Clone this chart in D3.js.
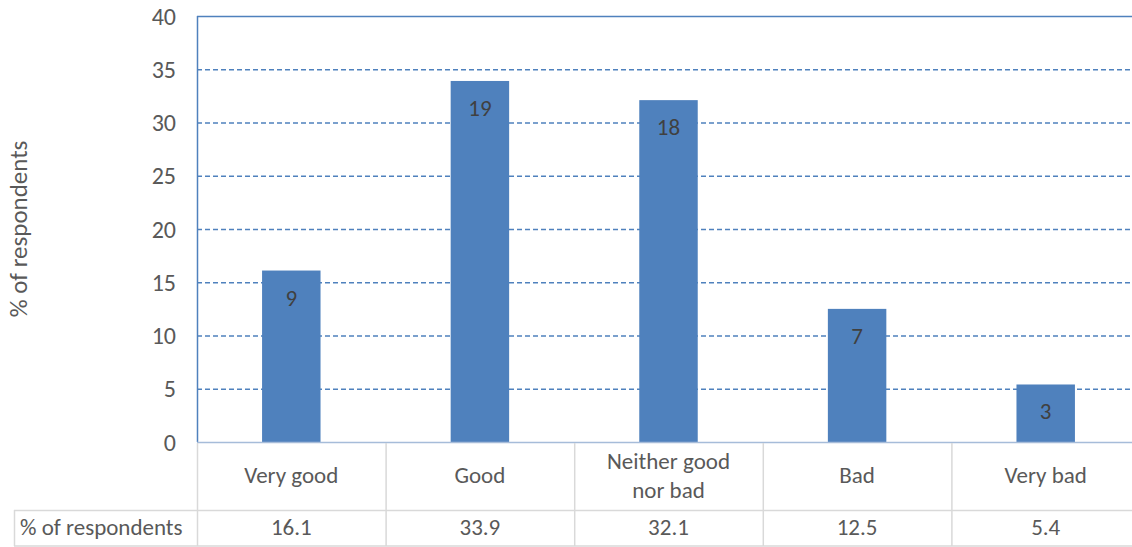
<!DOCTYPE html>
<html>
<head>
<meta charset="utf-8">
<script src="https://cdn.jsdelivr.net/npm/d3@7"></script>
<style>
  body { margin: 0; background: #fff; }
  text { font-family: Carlito, Lato, "Open Sans", sans-serif; }
</style>
</head>
<body>
<div id="chart"></div>
<script>
const categories = ['Very good', 'Good', 'Neither good nor bad', 'Bad', 'Very bad'];
const categoryLines = [['Very good'], ['Good'], ['Neither good', 'nor bad'], ['Bad'], ['Very bad']];
const percentValues = [16.1, 33.9, 32.1, 12.5, 5.4];
const countLabels = [9, 19, 18, 7, 3];
const yTicks = [0, 5, 10, 15, 20, 25, 30, 35, 40];
const seriesName = '% of respondents';

const width = 1132;
const height = 547;
const plotLeft = 197;
const plotRight = 1140;
const plotTop = 16;
const plotBottom = 442;
const barColor = '#4f81bd';
const textColor = '#595959';

const svg = d3.select('#chart')
  .append('svg')
  .attr('width', width)
  .attr('height', height);

const x = d3.scaleBand()
  .domain(categories)
  .range([plotLeft, plotRight])
  .paddingInner(0.69)
  .paddingOuter(0.345);

const y = d3.scaleLinear()
  .domain([0, 40])
  .range([plotBottom, plotTop]);

// dashed gridlines
svg.selectAll('.grid')
  .data(yTicks.filter(d => d > 0))
  .enter()
  .append('line')
  .attr('x1', plotLeft)
  .attr('x2', plotRight)
  .attr('y1', d => y(d) + 0.5)
  .attr('y2', d => y(d) + 0.5)
  .attr('stroke', barColor)
  .attr('stroke-width', 1.3)
  .attr('stroke-dasharray', d => d === 40 ? null : '5,3');

// bars
svg.selectAll('.bar')
  .data(percentValues)
  .enter()
  .append('rect')
  .attr('x', (d, i) => x(categories[i]))
  .attr('y', d => y(d))
  .attr('width', x.bandwidth())
  .attr('height', d => y(0) - y(d))
  .attr('fill', barColor);

// count labels inside bars
svg.selectAll('.bar-label')
  .data(percentValues)
  .enter()
  .append('text')
  .attr('x', (d, i) => x(categories[i]) + x.bandwidth() / 2)
  .attr('y', d => y(d) + 35)
  .attr('text-anchor', 'middle')
  .attr('font-size', 23)
  .attr('fill', '#404040')
  .text((d, i) => countLabels[i]);

// y axis line
svg.append('line')
  .attr('x1', plotLeft + 0.5).attr('x2', plotLeft + 0.5)
  .attr('y1', plotTop).attr('y2', plotBottom)
  .attr('stroke', barColor)
  .attr('stroke-width', 1.5);

// y tick labels
svg.selectAll('.ytick')
  .data(yTicks)
  .enter()
  .append('text')
  .attr('x', 176)
  .attr('y', d => y(d) + 8.5)
  .attr('text-anchor', 'end')
  .attr('font-size', 24)
  .attr('fill', textColor)
  .text(d => d);

// y axis title
svg.append('text')
  .attr('transform', 'translate(27,' + ((plotTop + plotBottom) / 2) + ') rotate(-90)')
  .attr('text-anchor', 'middle')
  .attr('font-size', 25)
  .attr('fill', textColor)
  .text(seriesName);

// data table
const tableColor = '#d9d9d9';
const step = x.step();
const rowTop = plotBottom + 1;
const rowMid = 510;
const rowBottom = 546;

// horizontal table lines
svg.append('line')
  .attr('x1', plotLeft).attr('x2', plotRight)
  .attr('y1', plotBottom + 0.5).attr('y2', plotBottom + 0.5)
  .attr('stroke', '#a6bcd9').attr('stroke-width', 1.5);
svg.append('line')
  .attr('x1', 14).attr('x2', plotRight)
  .attr('y1', rowMid + 0.5).attr('y2', rowMid + 0.5)
  .attr('stroke', tableColor).attr('stroke-width', 1.5);
svg.append('line')
  .attr('x1', 14).attr('x2', plotRight)
  .attr('y1', rowBottom).attr('y2', rowBottom)
  .attr('stroke', tableColor).attr('stroke-width', 1.5);
svg.append('line')
  .attr('x1', 14.5).attr('x2', 14.5)
  .attr('y1', rowMid).attr('y2', rowBottom)
  .attr('stroke', tableColor).attr('stroke-width', 1.5);

// vertical table lines
svg.selectAll('.vline')
  .data(d3.range(categories.length))
  .enter()
  .append('line')
  .attr('x1', i => plotLeft + i * step + 0.5)
  .attr('x2', i => plotLeft + i * step + 0.5)
  .attr('y1', rowTop)
  .attr('y2', rowBottom)
  .attr('stroke', tableColor)
  .attr('stroke-width', 1.5);

// category labels
svg.selectAll('.cat')
  .data(categoryLines)
  .enter()
  .append('text')
  .attr('text-anchor', 'middle')
  .attr('font-size', 23)
  .attr('fill', textColor)
  .attr('x', (d, i) => x(categories[i]) + x.bandwidth() / 2)
  .attr('y', d => d.length === 1 ? 483 : 469)
  .selectAll('tspan')
  .data(d => d)
  .enter()
  .append('tspan')
  .attr('x', function () { return d3.select(this.parentNode).attr('x'); })
  .attr('dy', (d, i) => i === 0 ? 0 : 29)
  .text(d => d);

// value row
svg.append('text')
  .attr('x', 20)
  .attr('y', 535)
  .attr('font-size', 23)
  .attr('fill', textColor)
  .text(seriesName);

svg.selectAll('.val')
  .data(percentValues)
  .enter()
  .append('text')
  .attr('x', (d, i) => x(categories[i]) + x.bandwidth() / 2)
  .attr('y', 535)
  .attr('text-anchor', 'middle')
  .attr('font-size', 23)
  .attr('fill', textColor)
  .text(d => d);
</script>
</body>
</html>
